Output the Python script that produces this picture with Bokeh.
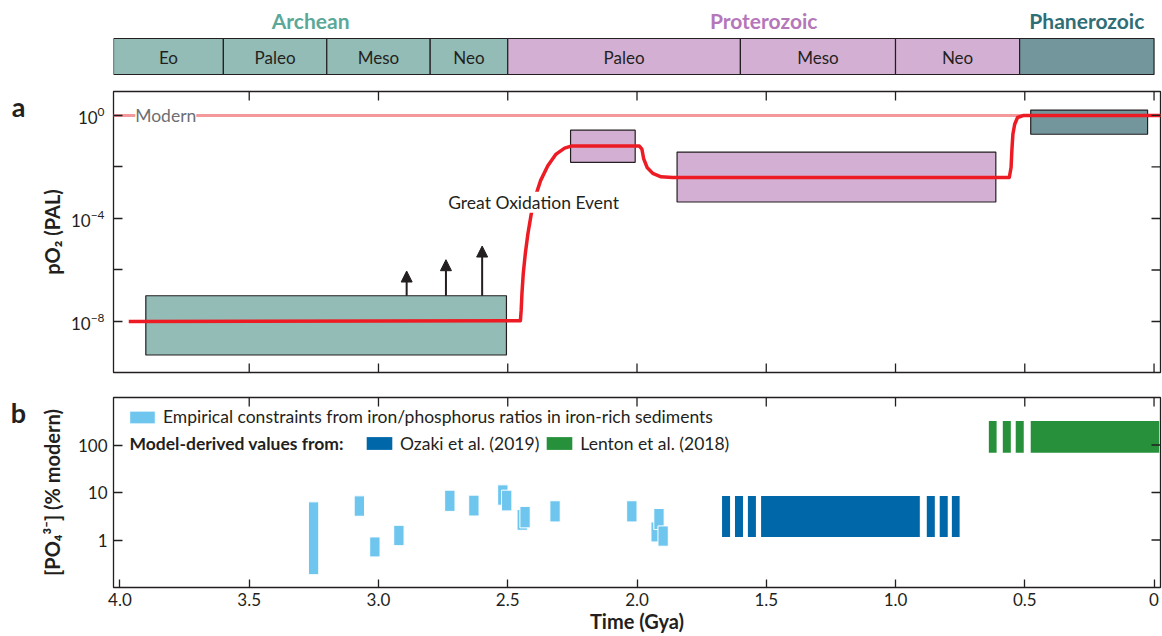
import math
from bokeh.plotting import figure
from bokeh.layouts import column, row
from bokeh.models import (Range1d, FixedTicker, Label, Arrow, NormalHead,
                          ColumnDataSource, Legend, LegendItem, CustomJSTickFormatter,
                          BasicTickFormatter, Span)
from bokeh.core.properties import value
from bokeh.embed import file_html
from bokeh.resources import INLINE

FONT = "Lato"
INK = "#231F20"

# ---------------- data ----------------
era_names = ["Archean", "Proterozoic", "Phanerozoic"]
era_start = [4.025, 2.5, 0.52]
era_end = [2.5, 0.52, 0.0]
era_fill = ["#93BCB6", "#D3AFD3", "#73969D"]
era_text_color = ["#5BA898", "#B577B9", "#2F6E76"]

period_names = ["Eo", "Paleo", "Meso", "Neo", "Paleo", "Meso", "Neo", ""]
period_start = [4.025, 3.6, 3.2, 2.8, 2.5, 1.6, 1.0, 0.52]
period_end = [3.6, 3.2, 2.8, 2.5, 1.6, 1.0, 0.52, 0.0]
period_era = [0, 0, 0, 0, 1, 1, 1, 2]

# panel a: pO2 constraint boxes (age in Gya, log10 PAL)
box_old = [3.90, 2.257, 1.845, 0.477]
box_young = [2.505, 2.007, 0.612, 0.025]
box_top_log = [-7.0, -0.57, -1.42, 0.21]
box_bottom_log = [-9.3, -1.82, -3.36, -0.73]
box_era = [0, 1, 1, 2]

# panel a: model pO2 curve
curve_age = [3.966, 2.451, 2.448, 2.445, 2.440, 2.432, 2.422, 2.409, 2.394, 2.373,
             2.345, 2.313, 2.280, 2.255, 1.991, 1.981, 1.974, 1.961, 1.939, 1.907,
             1.862, 0.560, 0.553, 0.550, 0.546, 0.539, 0.528, 0.504, -0.03]
curve_log_po2 = [-8.0, -7.97, -7.56, -6.91, -6.14, -5.36, -4.59, -3.82, -3.18, -2.53,
                 -1.95, -1.50, -1.27, -1.19, -1.19, -1.31, -1.69, -2.02, -2.25, -2.38,
                 -2.41, -2.41, -2.02, -1.37, -0.73, -0.34, -0.08, 0.0, 0.0]

# panel a: lower-limit arrows
arrow_age = [2.891, 2.739, 2.599]
arrow_from_log = [-7.0, -7.0, -7.0]
arrow_to_log = [-6.04, -5.60, -5.07]

modern_po2 = 1.0
goe_age, goe_log = 2.40, -3.37
modern_label_age = 3.941

# panel b: phosphate
emp_age = [3.251, 3.074, 3.014, 2.921, 2.724, 2.631, 2.519, 2.504, 2.444, 2.433,
           2.317, 2.020, 1.926, 1.915, 1.899]
emp_low = [0.186, 3.16, 0.44, 0.76, 4.0, 3.2, 5.4, 4.1, 1.6, 1.8, 2.4, 2.4, 0.91, 1.66, 0.74]
emp_high = [6.35, 8.5, 1.16, 2.04, 11.2, 8.8, 14.5, 11.2, 4.4, 5.1, 6.7, 6.7, 2.4, 4.6, 1.98]
emp_halfwidth = 0.02

ozaki_old = [1.671, 1.621, 1.571, 1.520, 0.879, 0.829, 0.782]
ozaki_young = [1.640, 1.590, 1.540, 0.906, 0.848, 0.798, 0.752]
ozaki_low, ozaki_high = 1.16, 8.4

lenton_old = [0.639, 0.585, 0.535, 0.477]
lenton_young = [0.609, 0.554, 0.504, -0.02]
lenton_low, lenton_high = 68.8, 321.0

model_label_age, model_label_po4 = 3.963, 110.0

age_ticks = [4.0, 3.5, 3.0, 2.5, 2.0, 1.5, 1.0, 0.5, 0.0]
inner_ticks = [3.5, 3.0, 2.5, 2.0, 1.5, 1.0, 0.5, 0.0]
po2_major = [1e-8, 1e-4, 1.0]
po2_minor = [1e-6, 1e-2]
po4_ticks = [1, 10, 100]

# ---------------- helpers ----------------
xr = Range1d(4.025, -0.025)
TICK = 18  # dash marker length; half of it shows inside the frame
STRIP_W = 36
MAIN_W = 1162 - STRIP_W


def base_fig(height, y_range, y_type, top, bottom, xloc="below", yloc="left"):
    p = figure(width=MAIN_W, height=height, x_range=xr, y_range=y_range, y_axis_type=y_type,
               output_backend="svg", toolbar_location=None,
               x_axis_location=xloc, y_axis_location=yloc,
               min_border_left=112 - STRIP_W, min_border_right=2,
               min_border_top=top, min_border_bottom=bottom)
    p.grid.visible = False
    p.background_fill_color = "white"
    p.border_fill_color = "white"
    return p


def style_axis(ax, size="17px"):
    ax.axis_line_color = None
    ax.major_tick_in = 9
    ax.major_tick_out = 0
    ax.minor_tick_in = 9
    ax.minor_tick_out = 0
    ax.major_tick_line_color = INK
    ax.minor_tick_line_color = INK
    ax.major_tick_line_width = 1.3
    ax.minor_tick_line_width = 1.3
    ax.major_label_text_font = FONT
    ax.major_label_text_color = INK
    ax.major_label_text_font_size = size
    ax.axis_label_text_font = FONT
    ax.axis_label_text_font_style = "bold"
    ax.axis_label_text_font_size = "20px"
    ax.axis_label_text_color = INK


def edge_ticks_x(p, ticks, at):
    p.scatter(x=ticks, y=[at] * len(ticks), marker="dash", size=TICK, angle=math.pi / 2,
              line_color=INK, line_width=1.3)


def edge_ticks_y(p, ticks, at):
    p.scatter(x=[at] * len(ticks), y=ticks, marker="dash", size=TICK,
              line_color=INK, line_width=1.3)


def lbl(**kw):
    base = dict(text_font=FONT, text_color=INK)
    base.update(kw)
    return Label(**base)


# ---------------- left strip: panel letters ----------------
pl = figure(width=STRIP_W, height=636, x_range=Range1d(0, STRIP_W), y_range=Range1d(636, 0),
            output_backend="svg", toolbar_location=None, x_axis_location=None,
            y_axis_location=None, min_border=0)
pl.outline_line_color = None
pl.grid.visible = False
pl.text(x=[18, 18], y=[106, 412], text=["a", "b"], text_font=value(FONT),
        text_font_style="bold", text_font_size="27px", text_color=INK,
        text_align="center", text_baseline="alphabetic")

# ---------------- period strip ----------------
pt = base_fig(80, Range1d(80, 0), "linear", 0, 0, xloc=None, yloc=None)
pt.outline_line_color = None
pt.quad(left=period_start, right=period_end, top=38, bottom=74,
        fill_color=[era_fill[e] for e in period_era], line_color=INK, line_width=1.2)
pt.text(x=[(a + b) / 2 for a, b in zip(period_start, period_end)], y=[56.5] * len(period_names),
        text=period_names, text_font=value(FONT), text_font_size="17px", text_color=INK,
        text_align="center", text_baseline="middle")
pt.text(x=[(a + b) / 2 for a, b in zip(era_start, era_end)], y=[20] * 3, text=era_names,
        text_font=value(FONT), text_font_style="bold", text_font_size="21px",
        text_color=era_text_color, text_align="center", text_baseline="middle")

# ---------------- panel a ----------------
ya = Range1d(10 ** -9.98, 10 ** 0.93)
pa = base_fig(305, ya, "log", 11, 13, xloc=None)
pa.outline_line_color = INK
pa.outline_line_width = 1.3
pa.yaxis.ticker = FixedTicker(ticks=po2_major, minor_ticks=po2_minor)
style_axis(pa.yaxis[0])
pa.yaxis.major_label_standoff = 9
pa.yaxis.axis_label = "pO\u2082 (PAL)"
pa.yaxis.axis_label_standoff = 4

pa.add_layout(Span(location=modern_po2, dimension="width", line_color="#F4999B",
                   line_width=3, level="underlay"))
pa.quad(left=box_old, right=box_young,
        top=[10 ** v for v in box_top_log], bottom=[10 ** v for v in box_bottom_log],
        fill_color=[era_fill[e] for e in box_era], line_color=INK, line_width=1.2)
pa.line(curve_age, [10 ** v for v in curve_log_po2], line_color="#ED1C24", line_width=3.5,
        line_join="round")
edge_ticks_x(pa, inner_ticks, ya.end)
edge_ticks_x(pa, inner_ticks, ya.start)
edge_ticks_y(pa, po2_major + po2_minor, xr.end)

asrc = ColumnDataSource(dict(x=arrow_age, y0=[10 ** v for v in arrow_from_log],
                             y1=[10 ** v for v in arrow_to_log]))
pa.add_layout(Arrow(end=NormalHead(size=11, fill_color=INK, line_color=INK, line_width=1),
                    source=asrc, x_start="x", y_start="y0", x_end="x", y_end="y1",
                    line_color=INK, line_width=2))

pa.add_layout(lbl(x=goe_age, y=10 ** goe_log, text="Great Oxidation Event", text_align="center",
                  text_baseline="middle", text_font_size="17.5px", background_fill_color="white"))
pa.add_layout(lbl(x=modern_label_age, y=modern_po2, text="Modern", text_align="left",
                  text_baseline="middle", text_font_size="17.5px", text_color="#6D6E71",
                  background_fill_color="white"))

# ---------------- panel b ----------------
yb = Range1d(0.1, 1000)
pb = base_fig(251, yb, "log", 12, 49)
pb.outline_line_color = INK
pb.outline_line_width = 1.3

pb.xaxis.ticker = FixedTicker(ticks=age_ticks)
pb.xaxis.formatter = CustomJSTickFormatter(code="return tick == 0 ? '0' : tick.toFixed(1);")
style_axis(pb.xaxis[0])
pb.xaxis.major_tick_in = 8
pb.xaxis.major_label_standoff = 5
pb.xaxis.axis_label = "Time (Gya)"
pb.xaxis.axis_label_standoff = 0

pb.yaxis.ticker = FixedTicker(ticks=po4_ticks)
pb.yaxis.formatter = BasicTickFormatter()
style_axis(pb.yaxis[0])
pb.yaxis.major_label_standoff = 6
pb.yaxis.axis_label = "[PO\u2084\u00b3\u207b] (% modern)"
pb.yaxis.axis_label_standoff = 11

r_emp = pb.quad(left=[a + emp_halfwidth for a in emp_age], right=[a - emp_halfwidth for a in emp_age],
                top=emp_high, bottom=emp_low, fill_color="#6EC6EF", line_color="white", line_width=1)
r_oz = pb.quad(left=ozaki_old, right=ozaki_young, top=ozaki_high, bottom=ozaki_low,
               fill_color="#0067A8", line_color=None)
r_le = pb.quad(left=lenton_old, right=lenton_young, top=lenton_high, bottom=lenton_low,
               fill_color="#26913A", line_color=None)
edge_ticks_x(pb, inner_ticks, yb.end)
edge_ticks_y(pb, po4_ticks, xr.end)

leg_common = dict(padding=0, margin=0, border_line_color=None, background_fill_alpha=0,
                  glyph_width=32, glyph_height=16, label_height=16, label_standoff=5,
                  label_text_font=FONT, label_text_font_size="17.5px", label_text_color=INK,
                  spacing=4, orientation="horizontal")
leg1 = Legend(items=[LegendItem(label="Empirical constraints from iron/phosphorus ratios in iron-rich sediments",
                                renderers=[r_emp])], location=(13, 160), **leg_common)
pb.add_layout(leg1)
leg2 = Legend(items=[LegendItem(label="Ozaki et al. (2019)", renderers=[r_oz]),
                     LegendItem(label="Lenton et al. (2018)", renderers=[r_le])],
              location=(250, 133.5), **leg_common)
pb.add_layout(leg2)
pb.add_layout(lbl(x=model_label_age, y=model_label_po4, text="Model-derived values from:",
                  text_align="left", text_baseline="middle", text_font_size="17.5px",
                  text_font_style="bold"))

layout = row(pl, column(pt, pa, pb, spacing=0), spacing=0)
open("out.html", "w").write(file_html(layout, INLINE))
